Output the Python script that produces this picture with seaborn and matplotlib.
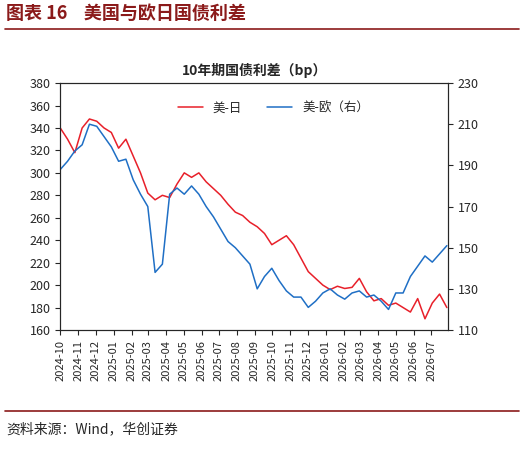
import matplotlib
matplotlib.use("Agg")
import matplotlib.pyplot as plt
import matplotlib.dates as mdates
import seaborn as sns
import pandas as pd

sns.set_style("ticks")
plt.rcParams['font.family'] = ['Noto Sans CJK SC', 'DejaVu Sans']

us_jp = [340, 330, 318, 340, 348, 346, 340, 336, 322, 330, 315, 300, 282, 276, 280, 278, 290,
         300, 296, 300, 292, 286, 280, 272, 265, 262, 256, 252, 246, 236, 240, 244, 236, 224,
         212, 206, 200, 196, 199, 197, 198, 206, 194, 186, 188, 182, 184, 180, 176, 188, 170,
         184, 192, 180]
us_eu = [188, 192, 197, 200, 210, 209, 204, 199, 192, 193, 183, 176, 170, 138, 142, 176, 179,
         176, 180, 176, 170, 165, 159, 153, 150, 146, 142, 130, 136, 140, 134, 129, 126, 126,
         121, 124, 128, 130, 127, 125, 128, 129, 126, 127, 124, 120, 128, 128, 136, 141, 146,
         143, 147, 151]
dates = pd.date_range("2024-10-01", "2026-07-28", periods=len(us_jp))
df = pd.DataFrame({"date": dates, "us_jp": us_jp, "us_eu": us_eu})

fig = plt.figure(figsize=(5.24, 4.49), dpi=100)
fig.text(0.012, 0.958, "图表 16    美国与欧日国债利差", fontsize=13, fontweight="bold", color="#8B1A1A")
fig.add_artist(plt.Line2D([0.01, 0.99], [0.935, 0.935], color="#8B1A1A", lw=1.2))
fig.add_artist(plt.Line2D([0.01, 0.99], [0.085, 0.085], color="#8B1A1A", lw=1.2))
fig.text(0.012, 0.035, "资料来源：Wind，华创证券", fontsize=10, style="italic")

ax = fig.add_axes([0.115, 0.265, 0.74, 0.55])
ax2 = ax.twinx()
sns.lineplot(data=df, x="date", y="us_jp", ax=ax, color="#E8202A", lw=1.1, label="美-日", legend=False)
sns.lineplot(data=df, x="date", y="us_eu", ax=ax2, color="#1F6FC5", lw=1.1, label="美-欧（右）", legend=False)
ax.set_ylim(160, 380); ax.set_yticks(range(160, 381, 20))
ax2.set_ylim(110, 230); ax2.set_yticks(range(110, 231, 20))
ax.set_xlim(pd.Timestamp("2024-10-01"), pd.Timestamp("2026-07-30"))
ax.xaxis.set_major_locator(mdates.MonthLocator())
ax.xaxis.set_major_formatter(mdates.DateFormatter("%Y-%m"))
plt.setp(ax.get_xticklabels(), rotation=90, fontsize=8)
ax.tick_params(axis="y", labelsize=9); ax2.tick_params(axis="y", labelsize=9)
ax.set_xlabel(""); ax.set_ylabel(""); ax2.set_ylabel("")
ax.set_title("10年期国债利差（bp）", fontsize=10, fontweight="bold")
h1, l1 = ax.get_legend_handles_labels(); h2, l2 = ax2.get_legend_handles_labels()
ax.legend(h1 + h2, l1 + l2, loc="upper center", bbox_to_anchor=(0.55, 0.97), ncol=2, frameon=False, fontsize=9)
fig.savefig("out.png", dpi=100)
